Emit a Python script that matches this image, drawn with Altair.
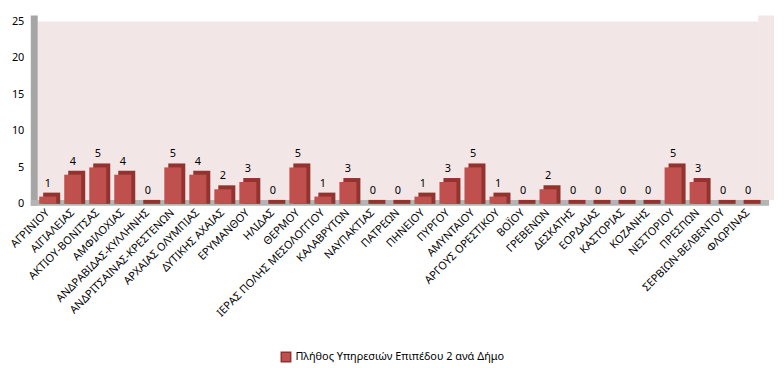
import altair as alt
import pandas as pd

categories = ["ΑΓΡΙΝΙΟΥ", "ΑΙΓΙΑΛΕΙΑΣ", "ΑΚΤΙΟΥ-ΒΟΝΙΤΣΑΣ", "ΑΜΦΙΛΟΧΙΑΣ",
              "ΑΝΔΡΑΒΙΔΑΣ-ΚΥΛΛΗΝΗΣ", "ΑΝΔΡΙΤΣΑΙΝΑΣ-ΚΡΕΣΤΕΝΩΝ", "ΑΡΧΑΙΑΣ ΟΛΥΜΠΙΑΣ",
              "ΔΥΤΙΚΗΣ ΑΧΑΙΑΣ", "ΕΡΥΜΑΝΘΟΥ", "ΗΛΙΔΑΣ", "ΘΕΡΜΟΥ",
              "ΙΕΡΑΣ ΠΟΛΗΣ ΜΕΣΟΛΟΓΓΙΟΥ", "ΚΑΛΑΒΡΥΤΩΝ", "ΝΑΥΠΑΚΤΙΑΣ", "ΠΑΤΡΕΩΝ",
              "ΠΗΝΕΙΟΥ", "ΠΥΡΓΟΥ", "ΑΜΥΝΤΑΙΟΥ", "ΑΡΓΟΥΣ ΟΡΕΣΤΙΚΟΥ", "ΒΟΪΟΥ",
              "ΓΡΕΒΕΝΩΝ", "ΔΕΣΚΑΤΗΣ", "ΕΟΡΔΑΙΑΣ", "ΚΑΣΤΟΡΙΑΣ", "ΚΟΖΑΝΗΣ",
              "ΝΕΣΤΟΡΙΟΥ", "ΠΡΕΣΠΩΝ", "ΣΕΡΒΙΩΝ-ΒΕΛΒΕΝΤΟΥ", "ΦΛΩΡΙΝΑΣ"]
values = [1, 4, 5, 4, 0, 5, 4, 2, 3, 0, 5, 1, 3, 0, 0, 1, 3, 5, 1, 0,
          2, 0, 0, 0, 0, 5, 3, 0, 0]
series_name = "Πλήθος Υπηρεσιών Επιπέδου 2 ανά Δήμο"
y_ticks = [0, 5, 10, 15, 20, 25]

df = pd.DataFrame({"cat": categories, "val": values, "series": series_name})

W, H = 727, 184
FONT = "Noto Sans"

x_enc = alt.X("cat:N", sort=None, title=None,
              scale=alt.Scale(paddingInner=0.32, paddingOuter=0.06),
              axis=alt.Axis(labelAngle=-45, labelAlign="right", labelBaseline="middle",
                            labelFont=FONT, labelFontSize=11, labelColor="#000000",
                            ticks=False, domain=False, labelPadding=7, labelOverlap=False,
                            labelLimit=300))
y_enc = alt.Y("val:Q", title=None,
              scale=alt.Scale(domain=[0, 25]),
              axis=alt.Axis(values=y_ticks, grid=False, ticks=False, domain=False,
                            labelFont=FONT, labelFontSize=11, labelColor="#000000",
                            labelPadding=14))

base = alt.Chart(df)

one = pd.DataFrame({"a": [0]})
back_ext = alt.Chart(one).mark_rect(color="#F3E6E6").encode(
    x=alt.value(W), x2=alt.value(W + 16), y=alt.value(-6), y2=alt.value(H - 4))
wall = alt.Chart(one).mark_rect(color="#A6A6A6").encode(
    x=alt.value(-7), x2=alt.value(0), y=alt.value(-6), y2=alt.value(H + 2))
floor = alt.Chart(one).mark_rect(color="#B4B4B4").encode(
    x=alt.value(-7), x2=alt.value(W + 11), y=alt.value(H - 4), y2=alt.value(H + 2))

side = base.mark_bar(color="#93332F", xOffset=4, yOffset=-4, y2Offset=0).encode(
    x=x_enc, y=y_enc, y2=alt.datum(0))
front = base.mark_bar().encode(
    x=x_enc, y=y_enc,
    color=alt.Color("series:N", title=None,
                    scale=alt.Scale(range=["#C0504D"]),
                    legend=alt.Legend(orient="none", legendX=245, legendY=333,
                                      symbolType="square",
                                      symbolSize=90, labelFont=FONT, labelFontSize=11,
                                      labelColor="#000000", symbolStrokeColor="#8E3230",
                                      labelLimit=400)))
labels = base.mark_text(baseline="bottom", dy=-8, font=FONT, fontSize=11).encode(
    x=x_enc, y=y_enc, text="val:Q", color=alt.value("#000000"))

chart = alt.layer(back_ext, wall, floor, side, front, labels).properties(
    width=W, height=H, background="#FFFFFF",
    padding={"left": 0, "top": 6, "right": 2, "bottom": 5}
).configure_view(fill="#F3E6E6", stroke=None)

chart.save("out.html", embed_options={"renderer": "svg", "actions": False})
